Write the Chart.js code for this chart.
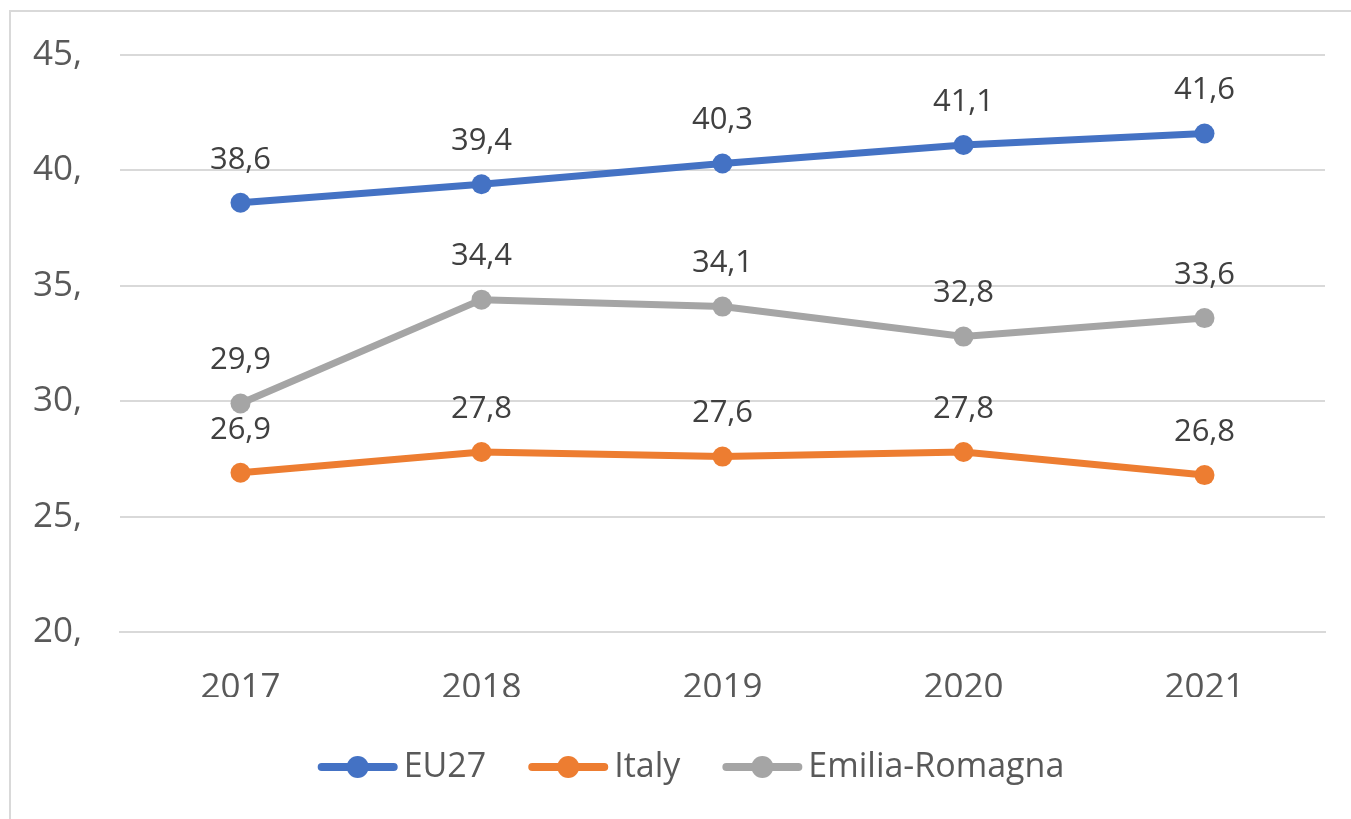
<!DOCTYPE html>
<html lang="en">
<head>
    <meta charset="UTF-8">
    <title>EU27 / Italy / Emilia-Romagna</title>
    <script src="https://cdn.jsdelivr.net/npm/chart.js@4.4.1/dist/chart.umd.min.js"></script>
    <style>
        html, body { margin: 0; padding: 0; background: #fff; overflow: hidden; width: 1351px; height: 819px; }
        #box { position: absolute; left: 9px; top: 10px; width: 1364px; height: 840px; border: 2px solid #d9d9d9; box-sizing: border-box; }
    </style>
</head>
<body>
    <div id="box"><canvas id="myChart"></canvas></div>

<script>
    const years = ['2017', '2018', '2019', '2020', '2021']
    const eu27 = [38.6, 39.4, 40.3, 41.1, 41.6]
    const italy = [26.9, 27.8, 27.6, 27.8, 26.8]
    const emilia = [29.9, 34.4, 34.1, 32.8, 33.6]
    const yTicks = [20, 25, 30, 35, 40, 45]

    const FONT = "'Open Sans', 'Noto Sans', sans-serif"
    const textCol = '#595959'

    function comma(v) { return v.toFixed(1).replace('.', ',') }

    // value labels above every point
    const valueLabels = {
        id: 'valueLabels',
        afterDatasetsDraw(chart) {
            let ctx = chart.ctx
            ctx.save()
            ctx.font = '31px ' + FONT
            ctx.fillStyle = '#404040'
            ctx.textAlign = 'center'
            ctx.textBaseline = 'middle'
            chart.data.datasets.forEach((ds, i) => {
                chart.getDatasetMeta(i).data.forEach((pt, j) => {
                    ctx.fillText(comma(ds.data[j]), pt.x, pt.y - 43)
                })
            })
            ctx.restore()
        }
    }

    // excel style legend: short line with a dot, then the name
    const lineLegend = {
        id: 'lineLegend',
        afterDraw(chart) {
            let ctx = chart.ctx
            let sets = chart.data.datasets
            let markW = 80, gapText = 6, gapItem = 42
            ctx.save()
            ctx.font = '34px ' + FONT
            let widths = sets.map(ds => markW + gapText + ctx.measureText(ds.label).width)
            let total = widths.reduce((a, b) => a + b, 0) + gapItem * (sets.length - 1)
            let x = chart.width / 2 - total / 2
            let y = chart.height - 81
            ctx.textBaseline = 'middle'
            ctx.textAlign = 'left'
            sets.forEach((ds, i) => {
                ctx.strokeStyle = ds.borderColor
                ctx.lineWidth = 8
                ctx.lineCap = 'round'
                ctx.beginPath(); ctx.moveTo(x + 4, y); ctx.lineTo(x + markW - 4, y); ctx.stroke()
                ctx.fillStyle = ds.borderColor
                ctx.beginPath(); ctx.arc(x + markW / 2, y, 11, 0, Math.PI * 2); ctx.fill()
                ctx.fillStyle = textCol
                ctx.fillText(ds.label, x + markW + gapText, y)
                x += widths[i] + gapItem
            })
            ctx.restore()
        }
    }

    function series(label, data, col) {
        return {
            label, data,
            borderColor: col, backgroundColor: col,
            borderWidth: 7,
            pointRadius: 10, pointHoverRadius: 10,
            pointBackgroundColor: col, pointBorderWidth: 0,
            tension: 0
        }
    }

    const data = {
        labels: years,
        datasets: [
            series('EU27', eu27, '#4472C4'),
            series('Italy', italy, '#ED7D31'),
            series('Emilia-Romagna', emilia, '#A5A5A5')
        ]
    }

    new Chart('myChart', {
        type: 'line',
        data,
        plugins: [valueLabels, lineLegend],
        options: {
            responsive: true,
            maintainAspectRatio: false,
            animation: false,
            layout: { padding: { top: 43, right: 46, left: 0, bottom: 151 } },
            plugins: {
                tooltip: { enabled: false },
                legend: { display: false }
            },
            scales: {
                x: {
                    offset: true,
                    grid: { display: false, drawTicks: false, offset: true },
                    border: { display: true, color: '#d9d9d9', width: 2 },
                    ticks: { color: textCol, font: { family: FONT, size: 35 }, padding: 35 },
                    afterFit(s) { s.height = 65 }
                },
                y: {
                    min: 20, max: 45,
                    afterBuildTicks(s) { s.ticks = yTicks.map(v => ({ value: v })) },
                    grid: { color: '#d9d9d9', lineWidth: 2, drawTicks: false },
                    border: { display: false },
                    ticks: {
                        color: textCol,
                        font: { family: FONT, size: 35 },
                        padding: 38,
                        callback: v => v + ','
                    },
                    // tick padding would otherwise push the plot top down
                    afterFit(s) { s.width = 109; s.paddingTop = 0; s.paddingBottom = 0 }
                }
            }
        }
    });
</script>
</body>
</html>
